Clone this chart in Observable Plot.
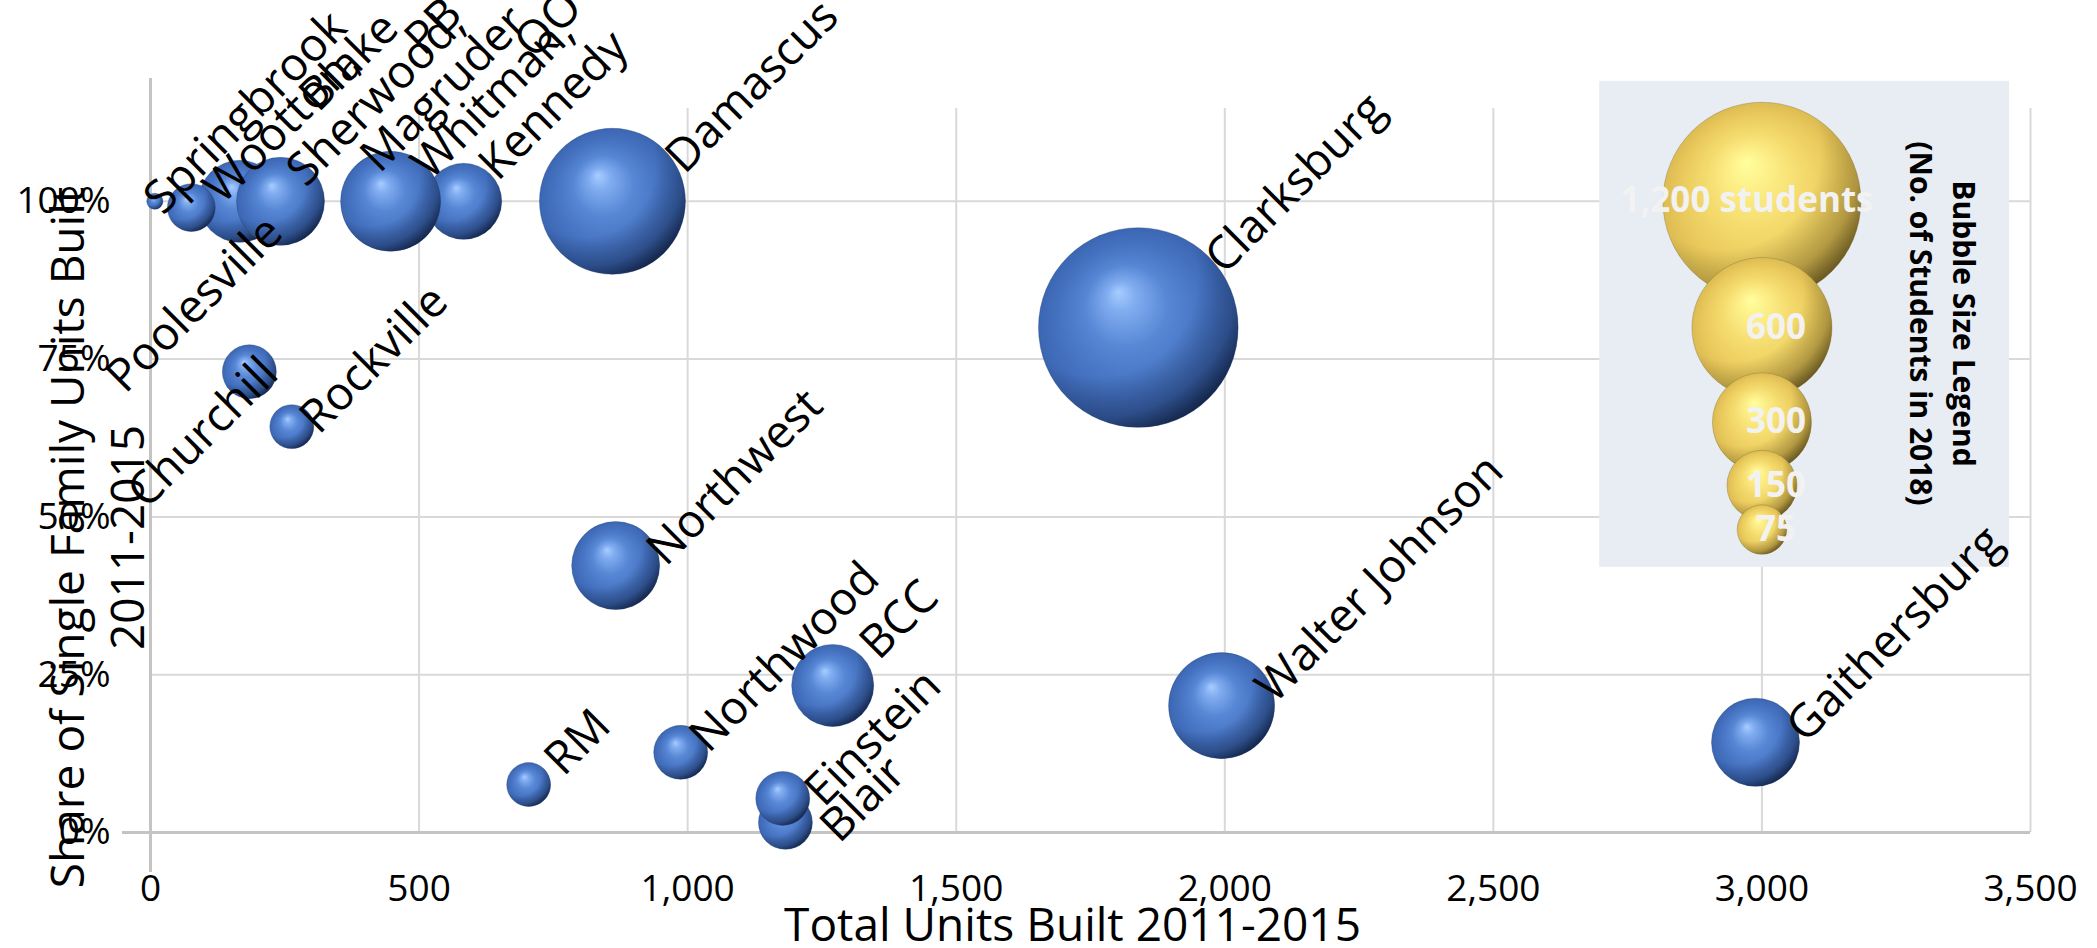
<!DOCTYPE html>
<html>
<head>
<meta charset="utf-8">
<script src="https://cdn.jsdelivr.net/npm/d3@7"></script>
<script src="https://cdn.jsdelivr.net/npm/@observablehq/plot@0.6"></script>
<style>
  html, body { margin: 0; padding: 0; background: #fff; overflow: hidden; }
  #chart svg { display: block; overflow: visible; }
</style>
</head>
<body>
<div id="chart"></div>
<script>
// ---------------- data ----------------
const schools    = ["Sherwood, PB", "Wootton, Blake", "Springbrook", "Magruder", "Kennedy", "Whitman, QO", "Damascus",
                    "Clarksburg", "Churchill", "Poolesville", "Rockville", "Northwest", "BCC", "Walter Johnson",
                    "Gaithersburg", "Northwood", "RM", "Blair", "Einstein"];
const totalUnits = [166, 76, 8, 242, 583, 447, 860, 1839, 190, 184, 263, 866, 1270, 1994, 2988, 987, 704, 1182, 1177];
const sfShare    = [1.00, 0.99, 1.00, 1.00, 1.00, 1.00, 1.00, 0.80, 0.72, 0.73, 0.643, 0.423, 0.233, 0.201, 0.143, 0.127, 0.076, 0.016, 0.054];
const students   = [206, 70, 8, 237, 177, 306, 652, 1220, 40, 89, 59, 237, 206, 344, 237, 89, 59, 89, 89];

const legendStudents = [1200, 600, 300, 150, 75];
const legendShare    = [1.00, 0.80, 0.65, 0.55, 0.48];
const legendUnits    = 3000;
const legendLabels   = ["1,200 students", "600", "300", "150", "75"];

const xTicks = [0, 500, 1000, 1500, 2000, 2500, 3000, 3500];
const yTicks = [0, 0.25, 0.5, 0.75, 1];

// ---------------- layout ----------------
const W = 2097, H = 948;
const mL = 150, mR = 67, mT = 108, mB = 116;
const xMax = 3500, yMax = 1.147;
const pxX = (W - mL - mR) / xMax;
const pxY = (H - mT - mB) / yMax;
const rMax = 99;
const rPx = s => rMax * Math.sqrt(s / 1200);

// manual label nudges (px), like hand-placed Excel data labels
const labelNudge = {
  "Springbrook": [-6, 13], "Wootton,": [1, -4], "Blake": [97, -96], "Sherwood,": [19, -15], "PB": [137, -146],
  "Magruder": [49, -29], "Whitman,": [-16, -22], "QO": [87, -143], "Kennedy": [-10, -21], "Damascus": [-7, -28],
  "Clarksburg": [-20, -54], "Poolesville": [-157, 21], "Churchill": [-130, 130], "Rockville": [-1, 7],
  "BCC": [-1, -26], "Northwood": [-5, 0], "RM": [7, -9], "Einstein": [8, 8], "Blair": [21, 20],
  "Walter Johnson": [-6, -3]
};

const bubbles = schools.map((name, i) => ({name, units: totalUnits[i], share: sfShare[i], students: students[i]}));
const labelRows = [];
bubbles.forEach(b => {
  const parts = b.name.split(", ");
  parts.forEach((p, j) => labelRows.push({text: j < parts.length - 1 ? p + "," : p, b}));
});
const nud = d => labelNudge[d.text] || [0, 0];

const legendRows = legendStudents.map((s, i) => ({students: s, share: legendShare[i], units: legendUnits, label: legendLabels[i]}));

const FONT = "'Open Sans', 'DejaVu Sans', sans-serif";

// one sphere = base highlight gradient + shading overlay, drawn point by point so overlaps stay correct
const sphereMarks = (rows, base, shade, stroke) => rows.map(row => [
  Plot.dot([row], {x: "units", y: "share", r: "students", fill: `url(#${base})`}),
  Plot.dot([row], {x: "units", y: "share", r: "students", fill: `url(#${shade})`, stroke, strokeWidth: 0.7, strokeOpacity: 0.45})
]);

const chart = Plot.plot({
  width: W, height: H,
  marginLeft: mL, marginRight: mR, marginTop: mT, marginBottom: mB,
  x: {domain: [0, xMax], axis: null},
  y: {domain: [0, yMax], axis: null},
  r: {type: "sqrt", domain: [0, 1200], range: [0, rMax]},
  style: {background: "white", fontFamily: FONT, overflow: "visible"},
  marks: [
    // gridlines
    Plot.ruleX(xTicks.filter(d => d > 0), {stroke: "#d9d9d9", strokeWidth: 2}),
    Plot.ruleY(yTicks.filter(d => d > 0), {stroke: "#d9d9d9", strokeWidth: 2}),
    // axis lines
    Plot.ruleX([0], {stroke: "#c4c4c4", strokeWidth: 3, insetTop: -30, insetBottom: -40}),
    Plot.ruleY([0], {stroke: "#c4c4c4", strokeWidth: 3, insetLeft: -28}),
    // tick labels
    Plot.text(xTicks, {x: d => d, frameAnchor: "bottom", dy: 42, lineAnchor: "top",
      text: d => d3.format(",")(d), fontSize: 37, fill: "#000"}),
    Plot.text(yTicks, {y: d => d, frameAnchor: "left", dx: -40, textAnchor: "end", lineAnchor: "middle",
      text: d => d3.format(".0%")(d), fontSize: 37, fill: "#000"}),
    // axis titles
    Plot.text(["Total Units Built 2011-2015"], {frameAnchor: "bottom", dx: -18, dy: 108, lineAnchor: "bottom",
      fontSize: 46, fill: "#000"}),
    Plot.text(["Share of Single Family Units Built\n2011-2015"], {frameAnchor: "left", dx: -56, dy: 67,
      rotate: -90, textAnchor: "middle", lineAnchor: "middle", lineHeight: 1.3, fontSize: 46, fill: "#000"}),
    // bubbles
    ...sphereMarks(bubbles, "blueSphere", "blueShade", "#1f3a6b"),
    // legend panel (background box) and legend bubbles
    Plot.rect([0], {x1: 2698, x2: 3461, y1: 0.42, y2: 1.19, fill: "#e8ecf3"}),
    ...sphereMarks(legendRows, "goldSphere", "goldShade", "#6f6028"),
    Plot.text(legendRows.slice(0, 1), {x: "units", y: "share", text: "label", dx: -15, lineAnchor: "middle",
      fontSize: 35, fontWeight: "bold", fill: "#f2f2f2"}),
    Plot.text(legendRows.slice(1), {x: "units", y: "share", text: "label", dx: 14, lineAnchor: "middle",
      fontSize: 35, fontWeight: "bold", fill: "#f2f2f2"}),
    Plot.text(["Bubble Size Legend\n(No. of Students in 2018)"], {frameAnchor: "top-right", dx: -85, dy: 215,
      rotate: 90, textAnchor: "middle", lineAnchor: "middle", lineHeight: 1.45, fontSize: 30, fontWeight: "bold", fill: "#000"}),
    // data labels
    Plot.text(labelRows, {
      x: d => d.b.units + (rPx(d.b.students) + 6 + nud(d)[0]) / pxX,
      y: d => d.b.share - (2 + nud(d)[1]) / pxY,
      text: "text", rotate: -45, textAnchor: "start", lineAnchor: "bottom", fontSize: 46, fill: "#000"
    })
  ].flat()
});

// sphere gradients
const NS = "http://www.w3.org/2000/svg";
const defs = document.createElementNS(NS, "defs");
function radial(id, attrs, stops) {
  const g = document.createElementNS(NS, "radialGradient");
  g.setAttribute("id", id);
  for (const [k, v] of Object.entries(attrs)) g.setAttribute(k, v);
  for (const [o, c, a = 1] of stops) {
    const s = document.createElementNS(NS, "stop");
    s.setAttribute("offset", o); s.setAttribute("stop-color", c); s.setAttribute("stop-opacity", a);
    g.appendChild(s);
  }
  defs.appendChild(g);
}
radial("blueSphere", {cx: "50%", cy: "50%", r: "50%", fx: "40%", fy: "32%"},
  [[0, "#a8cdff"], [0.15, "#80acf0"], [0.42, "#5686d4"], [0.72, "#4673c2"], [1, "#3b66b2"]]);
radial("blueShade", {cx: "30%", cy: "25%", r: "90%", fx: "30%", fy: "25%"},
  [[0, "#0a1630", 0], [0.55, "#0a1630", 0], [0.78, "#0a1630", 0.35], [0.92, "#08122a", 0.8], [1, "#060e22", 0.9]]);
radial("goldSphere", {cx: "50%", cy: "50%", r: "50%", fx: "42%", fy: "30%"},
  [[0, "#ffff9e"], [0.2, "#fdef88"], [0.5, "#f4da6c"], [0.8, "#e9c95c"], [1, "#dcbc52"]]);
radial("goldShade", {cx: "30%", cy: "25%", r: "90%", fx: "30%", fy: "25%"},
  [[0, "#3a300c", 0], [0.55, "#3a300c", 0], [0.78, "#3a300c", 0.3], [0.92, "#2e260a", 0.7], [1, "#241e08", 0.85]]);
chart.insertBefore(defs, chart.firstChild);

document.getElementById("chart").appendChild(chart);
</script>
</body>
</html>
